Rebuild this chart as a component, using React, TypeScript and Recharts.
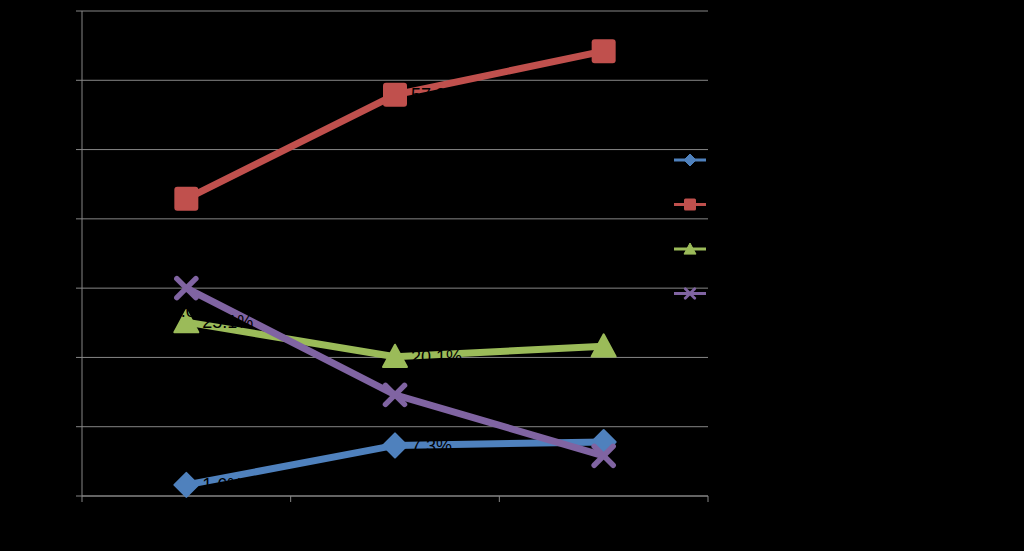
import React from "react";
import { LineChart, Line, XAxis, YAxis, CartesianGrid, Legend, LabelList } from "recharts";

const categories = ["Category 1", "Category 2", "Category 3"];
const seriesNames = ["Series 1", "Series 2", "Series 3", "Series 4"];
const series1 = [1.6, 7.3, 7.8];
const series2 = [42.9, 57.9, 64.2];
const series3 = [25.1, 20.1, 21.6];
const series4 = [30.0, 14.6, 5.8];
const yTicks = [0, 10, 20, 30, 40, 50, 60, 70];
const xTicks = [0, 1, 2, 3];

const colors = ["#4F81BD", "#C0504D", "#9BBB59", "#8064A2"];
const shapes = ["diamond", "square", "triangle", "x"];
const keys = ["s1", "s2", "s3", "s4"];
const labelPos = ["right", "right", "right", "bottom"];

const data = categories.map((c, i) => ({
  name: c,
  x: i + 0.5,
  s1: series1[i],
  s2: series2[i],
  s3: series3[i],
  s4: series4[i],
}));

function Marker({ shape, cx, cy, color, scale = 1 }: any) {
  if (cx == null || cy == null) return null;
  const s = scale;
  if (shape === "diamond") {
    const r = 12 * s;
    return (
      <polygon
        points={`${cx},${cy - r} ${cx + r},${cy} ${cx},${cy + r} ${cx - r},${cy}`}
        fill={color}
        stroke={color}
        strokeWidth={2 * s}
        strokeLinejoin="round"
      />
    );
  }
  if (shape === "square") {
    const h = 12 * s;
    return <rect x={cx - h} y={cy - h} width={2 * h} height={2 * h} rx={3 * s} fill={color} />;
  }
  if (shape === "triangle") {
    const w = 12 * s;
    return (
      <polygon
        points={`${cx},${cy - w} ${cx + w},${cy + w * 0.85} ${cx - w},${cy + w * 0.85}`}
        fill={color}
        stroke={color}
        strokeWidth={2 * s}
        strokeLinejoin="round"
      />
    );
  }
  const r = 9.5 * s;
  return (
    <g stroke={color} strokeWidth={5.5 * s} strokeLinecap="round">
      <line x1={cx - r} y1={cy - r} x2={cx + r} y2={cy + r} />
      <line x1={cx - r} y1={cy + r} x2={cx + r} y2={cy - r} />
    </g>
  );
}

function LegendContent() {
  return (
    <svg width={110} height={170} style={{ display: "block" }}>
      {seriesNames.map((n, i) => {
        const y = 10 + i * 44.5;
        return (
          <g key={n}>
            <line x1={4} x2={36} y1={y} y2={y} stroke={colors[i]} strokeWidth={3} />
            <Marker shape={shapes[i]} cx={20} cy={y} color={colors[i]} scale={0.5} />
            <text x={42} y={y + 4} fontSize={12} fill="#000">{n}</text>
          </g>
        );
      })}
    </svg>
  );
}

export default function App() {
  return (
    <div style={{ position: "absolute", left: 0, top: 0, width: 1024, height: 551, background: "#000" }}>
      <LineChart
        width={1024}
        height={551}
        data={data}
        margin={{ top: 11, right: 206, bottom: 25, left: 42 }}
        style={{ background: "#000", fontFamily: "Liberation Sans, Arial, sans-serif" }}
      >
        <CartesianGrid vertical={false} stroke="#868686" strokeWidth={1} />
        <XAxis
          dataKey="x"
          type="number"
          domain={[0, 3]}
          ticks={xTicks}
          tickFormatter={() => ""}
          stroke="#868686"
          tickSize={6}
          height={30}
        />
        <YAxis
          domain={[0, 70]}
          ticks={yTicks}
          tickFormatter={(v: number) => `${v}%`}
          stroke="#868686"
          tick={{ fill: "#000", fontSize: 14 }}
          tickSize={6}
          width={40}
        />
        <Legend
          layout="vertical"
          align="right"
          verticalAlign="middle"
          width={110}
          content={<LegendContent />}
          wrapperStyle={{ position: "absolute", left: 670, top: 150, width: 110, height: 170 }}
        />
        {keys.map((k, i) => (
          <Line
            key={k}
            dataKey={k}
            name={seriesNames[i]}
            stroke={colors[i]}
            strokeWidth={7}
            isAnimationActive={false}
            dot={(p: any) => <Marker key={`${k}-${p.index}`} shape={shapes[i]} cx={p.cx} cy={p.cy} color={colors[i]} />}
            activeDot={false}
          >
            <LabelList
              dataKey={k}
              position={labelPos[i] as any}
              offset={16}
              fill="#000"
              fontSize={18}
              formatter={(v: number) => `${v.toFixed(1)}%`}
            />
          </Line>
        ))}
      </LineChart>
    </div>
  );
}
